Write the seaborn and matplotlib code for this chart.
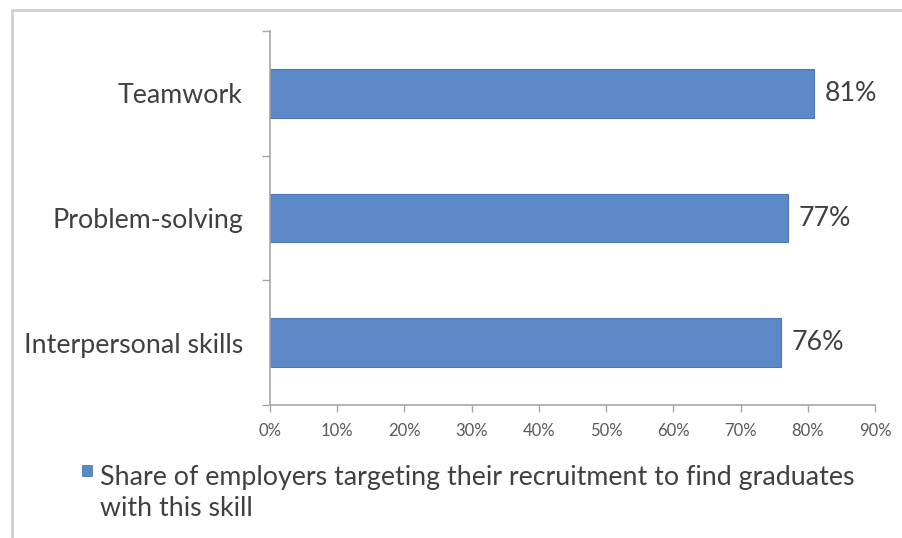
import matplotlib
matplotlib.use("Agg")
import matplotlib.pyplot as plt
from matplotlib.patches import Rectangle
import seaborn as sns
import pandas as pd

skills = ["Teamwork", "Problem-solving", "Interpersonal skills"]
shares = [81, 77, 76]
x_ticks = [0, 10, 20, 30, 40, 50, 60, 70, 80, 90]
legend_label = "Share of employers targeting their recruitment to find graduates\nwith this skill"

bar_color = "#5B88C6"
edge_color = "#4D78B4"
axis_gray = "#A6A6A6"
text_dark = "#404040"

sns.set_theme(style="white")
plt.rcParams["font.family"] = ["Lato", "DejaVu Sans"]

df = pd.DataFrame({"skill": skills, "share": shares})

fig = plt.figure(figsize=(9.03, 5.38), dpi=100)
ax = fig.add_axes([270 / 903, 1 - 405 / 538, (875 - 270) / 903, (405 - 31) / 538])

sns.barplot(data=df, x="share", y="skill", order=skills, orient="h",
            color=bar_color, width=0.39, saturation=1, ax=ax,
            edgecolor=edge_color, linewidth=0.8)

ax.set_xlim(0, 90)
ax.set_ylim(2.5, -0.5)
ax.set_xlabel("")
ax.set_ylabel("")

ax.set_xticks(x_ticks)
ax.set_xticklabels([f"{v}%" for v in x_ticks], fontsize=12, color="#595959")
ax.tick_params(axis="x", bottom=True, length=5, width=1, color=axis_gray, pad=8)

# category labels at bar centres, boundary ticks between categories
ax.set_yticks(range(len(skills)))
ax.set_yticklabels(skills, fontsize=19.3, color=text_dark)
ax.tick_params(axis="y", which="major", left=False, length=0, pad=19.5)
ax.set_yticks([-0.5, 0.5, 1.5, 2.5], minor=True)
ax.tick_params(axis="y", which="minor", left=True, length=6, width=1, color=axis_gray)

for side in ["top", "right"]:
    ax.spines[side].set_visible(False)
for side in ["left", "bottom"]:
    ax.spines[side].set_color(axis_gray)
    ax.spines[side].set_linewidth(1.2)

for container in ax.containers:
    ax.bar_label(container, labels=[f"{v}%" for v in shares], padding=7.5,
                 fontsize=19.3, color=text_dark)

# legend: colour swatch with wrapped label
fig.patches.append(Rectangle((82 / 903, 1 - 476 / 538), 10 / 903, 11 / 538,
                             transform=fig.transFigure, facecolor=bar_color,
                             edgecolor=edge_color, linewidth=0.6))
fig.text(100 / 903, 1 - 465 / 538, legend_label, fontsize=19.3, color=text_dark,
         va="top", ha="left", linespacing=1.32)

# outer chart frame
fig.patches.append(Rectangle((12 / 903, -0.05), 1.0, 1 - 10 / 538 + 0.05,
                             transform=fig.transFigure, fill=False,
                             edgecolor="#CFCFCF", linewidth=2))

fig.savefig("out.png", dpi=100)
